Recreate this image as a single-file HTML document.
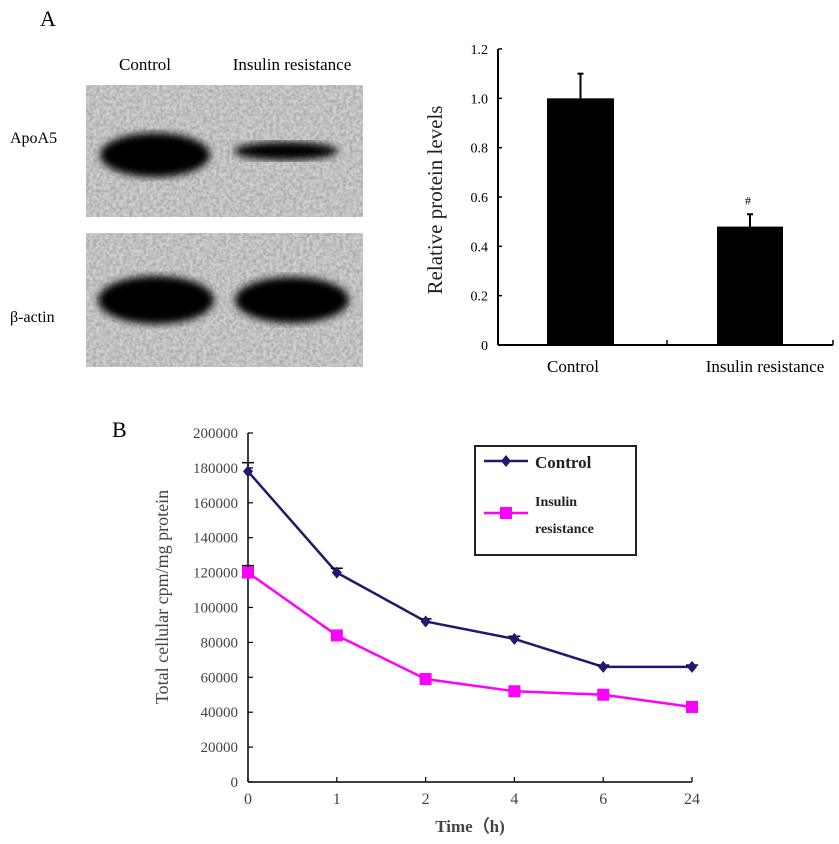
<!DOCTYPE html>
<html><head><meta charset="utf-8"><style>
body{margin:0;background:#fff;width:839px;height:844px;overflow:hidden;font-family:"Liberation Serif",serif}
svg{position:absolute;left:0;top:0}
</style></head><body>
<svg width="839" height="844">
<defs>
<filter id="noise" x="0" y="0" width="100%" height="100%">
<feTurbulence type="fractalNoise" baseFrequency="0.3" numOctaves="2" seed="4"/>
<feColorMatrix type="matrix" values="0 0 0 0 0.4  0 0 0 0 0.4  0 0 0 0 0.4  0 0 0 -2.2 1.5"/>
</filter>
<filter id="blur"><feGaussianBlur stdDeviation="4"/></filter>
</defs>
<text x="40" y="26" font-size="22">A</text>
<text x="145" y="70" font-size="17" text-anchor="middle">Control</text>
<text x="292" y="70" font-size="17" text-anchor="middle">Insulin resistance</text>
<text x="10" y="143" font-size="16">ApoA5</text>
<text x="10" y="322" font-size="16">β-actin</text>
<g>
<rect x="86" y="85" width="277" height="132" fill="#cfcfcf"/>
<rect x="86" y="85" width="277" height="132" filter="url(#noise)"/>
<ellipse cx="155" cy="155" rx="55" ry="22" fill="#000" filter="url(#blur)"/>
<ellipse cx="286" cy="151" rx="52" ry="9" fill="#000" filter="url(#blur)"/>
</g>
<g>
<rect x="86" y="233" width="277" height="134" fill="#cfcfcf"/>
<rect x="86" y="233" width="277" height="134" filter="url(#noise)"/>
<ellipse cx="156" cy="300" rx="58" ry="24" fill="#000" filter="url(#blur)"/>
<ellipse cx="292" cy="300" rx="57" ry="23" fill="#000" filter="url(#blur)"/>
</g>
<g id="barchart"></g>
<text x="112" y="437" font-size="22">B</text>
<g id="linechart"></g>
</svg>
<script>
const NS='http://www.w3.org/2000/svg';
function mk(p,t,a,txt){const e=document.createElementNS(NS,t);for(const k in a)e.setAttribute(k,a[k]);if(txt!==undefined)e.textContent=txt;p.appendChild(e);return e;}

// Bar chart data
const barCats=['Control','Insulin resistance'];
const barVals=[1.0,0.48];
const barErr=[0.1,0.05];
const barTicks=[0,0.2,0.4,0.6,0.8,1.0,1.2];
const barTickLabels=['0','0.2','0.4','0.6','0.8','1.0','1.2'];

// Line chart data
const timeLabels=['0','1','2','4','6','24'];
const controlVals=[178000,120000,92000,82000,66000,66000];
const insulinVals=[120000,84000,59000,52000,50000,43000];
const controlErr=[5000,2500,1500,1500,1000,1000];
const insulinErr=[4000,2000,1500,1000,1000,1000];
const lineTicks=[0,20000,40000,60000,80000,100000,120000,140000,160000,180000,200000];

(function(){
const g=document.getElementById('barchart');
const x0=498,x1=833,y0=345,yTop=49;
const ys=v=>y0-(v/1.2)*(y0-yTop);
const bx=[547,717],bw=[67,66];
let e=mk(g,'line',{x1:x0,y1:yTop,x2:x0,y2:y0,stroke:'#000','stroke-width':2});

e=mk(g,'line',{x1:x0,y1:y0,x2:x1,y2:y0,stroke:'#000','stroke-width':2});

mk(g,'line',{x1:667,y1:y0,x2:667,y2:y0-5,stroke:'#000','stroke-width':1.5});
mk(g,'line',{x1:x1,y1:y0,x2:x1,y2:y0-5,stroke:'#000','stroke-width':1.5});
barTicks.forEach((t,i)=>{
 mk(g,'line',{x1:x0,y1:ys(t),x2:x0+4,y2:ys(t),stroke:'#000','stroke-width':1.5});
 e=mk(g,'text',{x:x0-10,y:ys(t)+5,'font-size':14,'text-anchor':'end'},barTickLabels[i]);
 
});
barVals.forEach((v,i)=>{
 const cx=bx[i]+bw[i]/2;
 mk(g,'line',{x1:cx,y1:ys(v),x2:cx,y2:ys(v+barErr[i]),stroke:'#000','stroke-width':2});
 mk(g,'line',{x1:cx-3,y1:ys(v+barErr[i]),x2:cx+3,y2:ys(v+barErr[i]),stroke:'#000','stroke-width':2});
 e=mk(g,'rect',{x:bx[i],y:ys(v),width:bw[i],height:y0-ys(v),fill:'#000'});
 
 e=mk(g,'text',{x:i?765:573,y:372,'font-size':17,'text-anchor':'middle'},barCats[i]);
 
});
e=mk(g,'text',{x:748,y:ys(barVals[1]+barErr[1])-10,'font-size':12,'text-anchor':'middle'},'#');

e=mk(g,'text',{x:0,y:0,'font-size':21,'text-anchor':'middle',transform:'translate(442,200) rotate(-90)',fill:'#222'},'Relative protein levels');

})();

(function(){
const g=document.getElementById('linechart');
const x0=248,x1=692,y0=782,yTop=433;
const xs=i=>x0+i*(x1-x0)/(timeLabels.length-1);
const ys=v=>y0-(v/200000)*(y0-yTop);
let e=mk(g,'line',{x1:x0,y1:yTop,x2:x0,y2:y0,stroke:'#000','stroke-width':1.5});

e=mk(g,'line',{x1:x0,y1:y0,x2:x1,y2:y0,stroke:'#000','stroke-width':1.5});

lineTicks.forEach(t=>{
 mk(g,'line',{x1:x0,y1:ys(t),x2:x0+5,y2:ys(t),stroke:'#000','stroke-width':1.2});
 e=mk(g,'text',{x:x0-10,y:ys(t)+5,'font-size':15,'text-anchor':'end',fill:'#444'},String(t));
 
});
timeLabels.forEach((t,i)=>{
 mk(g,'line',{x1:xs(i),y1:y0,x2:xs(i),y2:y0-5,stroke:'#000','stroke-width':1.2});
 e=mk(g,'text',{x:xs(i),y:y0+22,'font-size':16,'text-anchor':'middle',fill:'#444'},t);
 
});
function series(vals,errs,color,name,square){
 mk(g,'polyline',{points:vals.map((v,i)=>xs(i)+','+ys(v)).join(' '),fill:'none',stroke:color,'stroke-width':2.5});
 vals.forEach((v,i)=>{
  mk(g,'line',{x1:xs(i),y1:ys(v),x2:xs(i),y2:ys(v+errs[i]),stroke:'#000','stroke-width':1.5});
  mk(g,'line',{x1:xs(i)-6,y1:ys(v+errs[i]),x2:xs(i)+6,y2:ys(v+errs[i]),stroke:'#000','stroke-width':1.5});
  let m;
  if(square)m=mk(g,'rect',{x:xs(i)-6,y:ys(v)-6,width:12,height:12,fill:color});
  else m=mk(g,'polygon',{points:`${xs(i)},${ys(v)-6} ${xs(i)+5},${ys(v)} ${xs(i)},${ys(v)+6} ${xs(i)-5},${ys(v)}`,fill:color});
  
 });
}
series(controlVals,controlErr,'#1e1a6e','control',false);
series(insulinVals,insulinErr,'#ff00ff','insulin-resistance',true);
e=mk(g,'text',{x:0,y:0,'font-size':18,'text-anchor':'middle',transform:'translate(168,597) rotate(-90)',fill:'#444'},'Total cellular cpm/mg protein');

e=mk(g,'text',{x:470,y:832,'font-size':17,'text-anchor':'middle','font-weight':'bold',fill:'#444'},'Time（h)');

const lg=mk(g,'g',{});

mk(lg,'rect',{x:475,y:446,width:161,height:109,fill:'#fff',stroke:'#222','stroke-width':2});
mk(lg,'line',{x1:484,y1:461,x2:528,y2:461,stroke:'#1e1a6e','stroke-width':2.5});
mk(lg,'polygon',{points:'506,455 511,461 506,467 501,461',fill:'#1e1a6e'});
e=mk(lg,'text',{x:535,y:468,'font-size':17,'font-weight':'bold',fill:'#222'},'Control');

mk(lg,'line',{x1:484,y1:513,x2:528,y2:513,stroke:'#ff00ff','stroke-width':2.5});
mk(lg,'rect',{x:500,y:507,width:12,height:12,fill:'#ff00ff'});
e=mk(lg,'text',{x:535,y:506,'font-size':14,'font-weight':'bold',fill:'#222'},'Insulin');

mk(lg,'text',{x:535,y:533,'font-size':14,'font-weight':'bold',fill:'#222'},'resistance');
})();
</script>
</body></html>
